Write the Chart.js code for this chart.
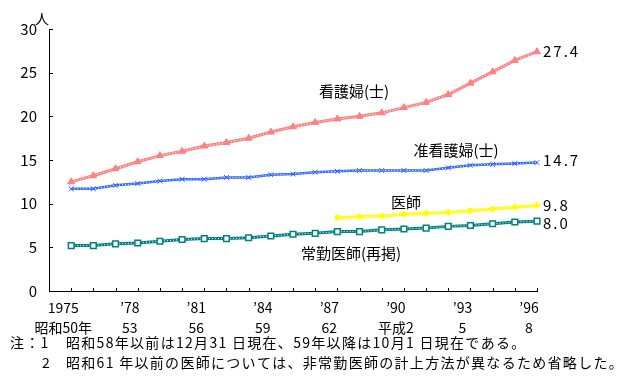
<!DOCTYPE html>
<html>
<head>
<meta charset="utf-8">
<script src="https://cdn.jsdelivr.net/npm/chart.js@4"></script>
<style>
  html, body { margin: 0; padding: 0; background: #fff; }
  #wrap { width: 627px; height: 376px; position: relative; }
</style>
</head>
<body>
<div id="wrap"><canvas id="c" width="627" height="376"></canvas></div>
<script>
// 人口10万対 就業者数の推移（1975〜1996）
const YEARS = [1975, 1976, 1977, 1978, 1979, 1980, 1981, 1982, 1983, 1984, 1985, 1986, 1987, 1988, 1989, 1990, 1991, 1992, 1993, 1994, 1995, 1996];
const NURSE = [12.5, 13.2, 14.0, 14.8, 15.5, 16.0, 16.6, 17.0, 17.5, 18.2, 18.8, 19.3, 19.7, 20.0, 20.4, 21.0, 21.6, 22.5, 23.8, 25.1, 26.4, 27.4];
const ASSOC_NURSE = [11.7, 11.7, 12.1, 12.3, 12.6, 12.8, 12.8, 13.0, 13.0, 13.3, 13.4, 13.6, 13.7, 13.8, 13.8, 13.8, 13.8, 14.1, 14.4, 14.5, 14.6, 14.7];
const DOCTOR = [null, null, null, null, null, null, null, null, null, null, null, null, 8.4, 8.5, 8.6, 8.8, 8.9, 9.0, 9.2, 9.4, 9.6, 9.8];
const FULLTIME_DOCTOR = [5.2, 5.2, 5.4, 5.5, 5.7, 5.9, 6.0, 6.0, 6.1, 6.3, 6.5, 6.6, 6.8, 6.8, 7.0, 7.1, 7.2, 7.4, 7.5, 7.7, 7.9, 8.0];

const TICK_YEARS = [1975, 1978, 1981, 1984, 1987, 1990, 1993, 1996];
const TICK_WESTERN = ['1975', '’78', '’81', '’84', '’87', '’90', '’93', '’96'];
const TICK_JAPANESE = ['昭和50年', '53', '56', '59', '62', '平成2', '5', '8'];
const Y_TICKS = [0, 5, 10, 15, 20, 25, 30];

const NOTES = [
  ['注：1', '昭和58年以前は12月31 日現在、59年以降は10月1 日現在である。'],
  ['2', '昭和61 年以前の医師については、非常勤医師の計上方法が異なるため省略した。'],
];

const FONT = "'Noto Sans CJK JP', 'Noto Sans', sans-serif";

function toPoints(values) {
  return YEARS.map((x, i) => ({ x, y: values[i] })).filter(p => p.y !== null);
}

// 1系列 = 線 + 白い点線(鎖模様) + マーカー の3つに分けて描く
function series(values, color, width, marker) {
  const pts = toPoints(values);
  return [
    { data: pts, borderColor: color, borderWidth: width, pointRadius: 0, showLine: true, order: 30, clip: false },
    { data: pts, borderColor: '#ffffff', borderWidth: 1, borderDash: [1, 2], pointRadius: 0, showLine: true, order: 20, clip: false },
    Object.assign({ data: pts, showLine: false, order: 10, clip: false }, marker),
  ];
}

const datasets = [
  ...series(NURSE, '#ff8080', 3, { pointStyle: 'triangle', pointRadius: 4, backgroundColor: '#ff8080', borderColor: '#ff8080', borderWidth: 1 }),
  ...series(ASSOC_NURSE, '#3366ff', 2.5, { pointStyle: 'crossRot', pointRadius: 3.5, borderColor: '#3366ff', borderWidth: 1 }),
  ...series(DOCTOR, '#ffff00', 3, { pointStyle: 'rectRot', pointRadius: 3.2, backgroundColor: '#ffff00', borderColor: '#ffff00', borderWidth: 1 }),
  ...series(FULLTIME_DOCTOR, '#008080', 3, { pointStyle: 'rect', pointRadius: 4, backgroundColor: '#ffffff', borderColor: '#008080', borderWidth: 1.5 }),
];

const END_LABELS = [
  { values: NURSE, dy: 0 },
  { values: ASSOC_NURSE, dy: -2 },
  { values: DOCTOR, dy: 0 },
  { values: FULLTIME_DOCTOR, dy: 2 },
];

const SERIES_NAMES = [
  { text: '看護婦(士)', x: 354, y: 91 },
  { text: '准看護婦(士)', x: 456, y: 150 },
  { text: '医師', x: 406, y: 202 },
  { text: '常勤医師(再掲)', x: 351, y: 253 },
];

const annotations = {
  id: 'annotations',
  afterDraw(chart) {
    const { ctx, scales: { x, y }, chartArea } = chart;
    ctx.save();
    ctx.strokeStyle = '#000';
    ctx.lineWidth = 1;
    // 内向きの目盛り
    YEARS.forEach(yr => {
      const px = Math.round(x.getPixelForValue(yr)) + 0.5;
      ctx.beginPath();
      ctx.moveTo(px, chartArea.bottom);
      ctx.lineTo(px, chartArea.bottom - 3);
      ctx.stroke();
    });
    Y_TICKS.forEach(v => {
      const py = Math.round(y.getPixelForValue(v)) + 0.5;
      ctx.beginPath();
      ctx.moveTo(chartArea.left, py);
      ctx.lineTo(chartArea.left + 4, py);
      ctx.stroke();
    });

    ctx.fillStyle = '#000';
    ctx.textBaseline = 'middle';
    ctx.textAlign = 'center';
    ctx.font = `14px ${FONT}`;
    ctx.fillText('人', 42, 19);

    ctx.font = `15px ${FONT}`;
    SERIES_NAMES.forEach(s => ctx.fillText(s.text, s.x, s.y));

    ctx.textAlign = 'left';
    ctx.font = `15px ${FONT}`;
    ctx.letterSpacing = '2px';
    const last = YEARS[YEARS.length - 1];
    END_LABELS.forEach(l => {
      const v = l.values[l.values.length - 1];
      ctx.fillText(v.toFixed(1), x.getPixelForValue(last) + 6, y.getPixelForValue(v) + l.dy);
    });

    ctx.font = `14px ${FONT}`;
    ctx.letterSpacing = '1.3px';
    ctx.fillText(NOTES[0][0], 10, 343);
    ctx.fillText(NOTES[0][1], 66, 343);
    ctx.fillText(NOTES[1][0], 42, 363);
    ctx.fillText(NOTES[1][1], 66, 363);
    ctx.restore();
  }
};

new Chart(document.getElementById('c'), {
  type: 'line',
  data: { datasets },
  options: {
    responsive: false,
    animation: false,
    devicePixelRatio: 1,
    layout: { padding: { top: 29, right: 90, left: 0, bottom: 0 } },
    plugins: { legend: { display: false }, tooltip: { enabled: false } },
    scales: {
      x: {
        type: 'linear',
        min: 1974,
        max: 1996,
        afterBuildTicks: s => { s.ticks = TICK_YEARS.map(v => ({ value: v })); },
        afterFit: s => { s.height = 85; },
        grid: { display: true, drawOnChartArea: false, drawTicks: false },
        border: { display: true, color: '#000', width: 1 },
        ticks: {
          autoSkip: false,
          maxRotation: 0,
          padding: 7,
          labelOffset: -8,
          color: '#000',
          font: { family: FONT, size: 14, lineHeight: 1.43 },
          callback: v => {
            const i = TICK_YEARS.indexOf(v);
            return i < 0 ? '' : [TICK_WESTERN[i], TICK_JAPANESE[i]];
          },
        },
      },
      y: {
        min: 0,
        max: 30,
        afterBuildTicks: s => { s.ticks = Y_TICKS.map(v => ({ value: v })); },
        afterFit: s => { s.width = 49; },
        grid: { display: true, drawOnChartArea: false, drawTicks: false },
        border: { display: true, color: '#000', width: 1 },
        ticks: { padding: 12, color: '#000', font: { family: FONT, size: 15 } },
      },
    },
  },
  plugins: [annotations],
});
</script>
</body>
</html>
